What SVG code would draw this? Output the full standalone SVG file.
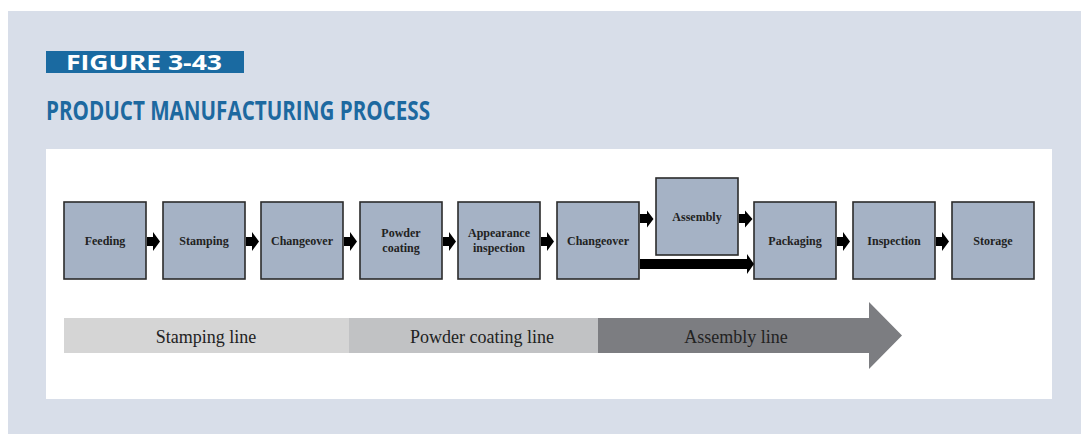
<svg xmlns="http://www.w3.org/2000/svg" width="1081" height="434" viewBox="0 0 1081 434">
<defs>
<style>
.node rect{fill:#A5B2C5;stroke:#2b2b2b;stroke-width:1.6}
.node text{font-family:"Liberation Serif","Times New Roman",serif;font-weight:bold;font-size:12px;fill:#222;text-anchor:middle}
.arr{fill:#000}
.band{font-family:"Liberation Serif","Times New Roman",serif;font-size:18px;fill:#222;text-anchor:middle}
</style>
</defs>
<rect x="0" y="0" width="1081" height="434" fill="#ffffff"/>
<rect x="8" y="11" width="1073" height="423" fill="#D8DEE9"/>
<rect x="46" y="51" width="198" height="22" fill="#1A6AA1"/>
<text x="66" y="70" font-family="'Open Sans',sans-serif" font-weight="bold" font-size="21" fill="#ffffff" textLength="156" lengthAdjust="spacingAndGlyphs">FIGURE 3-43</text>
<text x="46" y="120" font-family="'Open Sans',sans-serif" font-weight="bold" font-size="26.5" fill="#1D69A0" textLength="384" lengthAdjust="spacingAndGlyphs">PRODUCT MANUFACTURING PROCESS</text>
<rect x="46" y="149" width="1006" height="250" fill="#ffffff"/>

<g id="n-feeding" class="node"><rect x="64" y="202" width="82" height="77"/><text x="105" y="245">Feeding</text></g>
<g id="n-stamping" class="node"><rect x="163" y="202" width="82" height="77"/><text x="204" y="245">Stamping</text></g>
<g id="n-changeover1" class="node"><rect x="261" y="202" width="82" height="77"/><text x="302" y="245">Changeover</text></g>
<g id="n-powder" class="node"><rect x="360" y="202" width="82" height="77"/><text x="401" y="237">Powder</text><text x="401" y="252">coating</text></g>
<g id="n-appearance" class="node"><rect x="458" y="202" width="82" height="77"/><text x="499" y="237">Appearance</text><text x="499" y="252">inspection</text></g>
<g id="n-changeover2" class="node"><rect x="557" y="202" width="82" height="77"/><text x="598" y="245">Changeover</text></g>
<g id="n-assembly" class="node"><rect x="656" y="178" width="82" height="77"/><text x="697" y="221">Assembly</text></g>
<g id="n-packaging" class="node"><rect x="754" y="202" width="82" height="77"/><text x="795" y="245">Packaging</text></g>
<g id="n-inspection" class="node"><rect x="853" y="202" width="82" height="77"/><text x="894" y="245">Inspection</text></g>
<g id="n-storage" class="node"><rect x="952" y="202" width="82" height="77"/><text x="993" y="245">Storage</text></g>

<g id="connectors" class="arr">
<polygon points="147,237 153,237 153,232 160,241.5 153,251 153,246 147,246"/>
<polygon points="246,237 252,237 252,232 259,241.5 252,251 252,246 246,246"/>
<polygon points="344,237 350,237 350,232 357,241.5 350,251 350,246 344,246"/>
<polygon points="443,237 449,237 449,232 456,241.5 449,251 449,246 443,246"/>
<polygon points="541,237 547,237 547,232 554,241.5 547,251 547,246 541,246"/>
<polygon points="640,214 647,214 647,210.5 653.5,219 647,227.5 647,223 640,223"/>
<polygon points="739,214 745,214 745,210.5 752.5,219 745,227.5 745,223 739,223"/>
<polygon points="640,259 747,259 747,254 754,264 747,274 747,269 640,269"/>
<polygon points="837,237 843,237 843,232 850,241.5 843,251 843,246 837,246"/>
<polygon points="936,237 942,237 942,232 949,241.5 942,251 942,246 936,246"/>
</g>

<g id="lines">
<rect x="64" y="318" width="285" height="35" fill="#D5D5D5"/>
<rect x="349" y="318" width="249" height="35" fill="#C1C2C4"/>
<polygon points="598,318 869,318 869,302 902,335.5 869,369 869,353 598,353" fill="#7C7D81"/>
<text class="band" x="206" y="343">Stamping line</text>
<text class="band" x="482" y="343">Powder coating line</text>
<text class="band" x="736" y="343">Assembly line</text>
</g>
</svg>
